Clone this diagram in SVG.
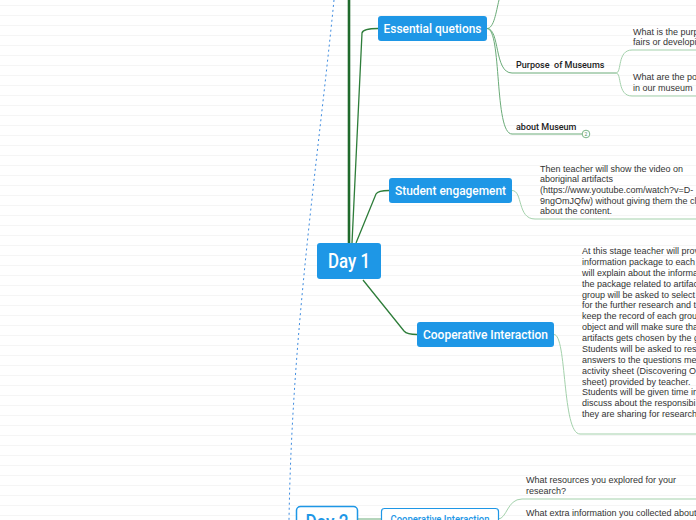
<svg xmlns="http://www.w3.org/2000/svg" width="696" height="520" viewBox="0 0 696 520">
<defs>
<pattern id="ruled" width="696" height="10" patternUnits="userSpaceOnUse">
<line x1="0" y1="5.5" x2="696" y2="5.5" stroke="#f5f5f5" stroke-width="1"/>
</pattern>
<style>
.node rect.fill{fill:#1e97e6;}
.node text.lbl{fill:#ffffff;font-family:Roboto,"Liberation Sans",sans-serif;font-weight:500;text-anchor:middle;}
.onode rect{fill:#ffffff;stroke:#1e97e6;}
.onode text{fill:#1e97e6;font-family:Roboto,"Liberation Sans",sans-serif;font-weight:500;text-anchor:middle;}
.leaf{font-family:"Liberation Sans",Arial,sans-serif;font-size:9px;fill:#333333;}
.sub{font-family:Roboto,"Liberation Sans",sans-serif;font-weight:500;font-size:9px;fill:#222222;}
.trunk{fill:none;stroke:#1f6a2c;stroke-width:2.6;}
.l1{fill:none;stroke:#2e7d3a;stroke-width:1.3;}
.l2{fill:none;stroke:#6aab78;stroke-width:1;}
.l3{fill:none;stroke:#a3d1ab;stroke-width:1;}
.rel{fill:none;stroke:#3d8be0;stroke-width:1;stroke-dasharray:2 3;}
</style>
</defs>
<rect width="696" height="520" fill="#ffffff"/>
<rect width="696" height="520" fill="url(#ruled)"/>

<g id="connectors">
<path class="rel" d="M334,0 C318,160 292,330 289,520"/>
<path class="trunk" d="M349,243 L349,0"/>
<path class="l1" d="M352,243 L362,33 Q363,28.5 378,28.5"/>
<path class="l1" d="M356,243 L376,194 Q378,190.5 389,190.5"/>
<path class="l1" d="M363,280 L404,331 Q407,334.5 417,334.5"/>
<path class="l2" d="M487,28.5 C494,28.5 496,12 499,0"/>
<path class="l2" d="M487,28.5 C500,28.5 494,73 512,73 L616,73"/>
<path class="l2" d="M487,28.5 C502,28.5 494,134 512,134 L582,134"/>
<path class="l3" d="M616,73 C622,73 617,50 632,50 L696,50"/>
<path class="l3" d="M616,73 C622,73 617,96 632,96 L696,96"/>
<path class="l3" d="M512,190.5 C523,190.5 517,219 535,219 L696,219"/>
<path class="l3" d="M554,334.5 C567,334.5 562,434 580,434 L696,434"/>
<path class="l2" d="M357,519 L381,519"/>
<path class="l3" d="M498,519 C507,519 507,499 522,499 L696,499"/>
</g>

<g id="day1" class="node">
<rect class="fill" x="317" y="243" width="64" height="36" rx="3"/>
<text class="lbl" x="349" y="267.5" font-size="20" textLength="42" lengthAdjust="spacingAndGlyphs">Day 1</text>
</g>

<g id="essential" class="node">
<rect class="fill" x="378" y="16" width="109" height="25" rx="3"/>
<text class="lbl" x="432.5" y="32.5" font-size="13" textLength="98" lengthAdjust="spacingAndGlyphs">Essential quetions</text>
</g>

<g id="purpose">
<text class="sub" x="516" y="68">Purpose&#160; of Museums</text>
</g>
<g id="purpose-q1">
<text class="leaf" x="633" y="34.5">What is the purp</text>
<text class="leaf" x="633" y="44.5">fairs or developi</text>
</g>
<g id="purpose-q2">
<text class="leaf" x="633" y="80">What are the po</text>
<text class="leaf" x="633" y="90.5">in our museum</text>
</g>

<g id="about">
<text class="sub" x="516" y="129.5">about Museum</text>
<circle cx="586" cy="134" r="3.8" fill="#ffffff" stroke="#6aab78" stroke-width="0.9"/>
<text x="586" y="135.8" font-family="Roboto,'Liberation Sans',sans-serif" font-size="5" fill="#4a8a5a" text-anchor="middle">2</text>
</g>

<g id="student" class="node">
<rect class="fill" x="389" y="178" width="123" height="25" rx="3"/>
<text class="lbl" x="450.5" y="195" font-size="13" textLength="111" lengthAdjust="spacingAndGlyphs">Student engagement</text>
</g>
<g id="student-text">
<text class="leaf" x="540" y="171.5">Then teacher will show the video on</text>
<text class="leaf" x="540" y="182.2">aboriginal artifacts</text>
<text class="leaf" x="540" y="192.9">(https://www.youtube.com/watch?v=D-</text>
<text class="leaf" x="540" y="203.6">9ngOmJQfw) without giving them the cl</text>
<text class="leaf" x="540" y="214.3">about the content.</text>
</g>

<g id="coop1" class="node">
<rect class="fill" x="417" y="322" width="137" height="25" rx="3"/>
<text class="lbl" x="485.5" y="338.8" font-size="13" textLength="125" lengthAdjust="spacingAndGlyphs">Cooperative Interaction</text>
</g>
<g id="coop1-text" class="leaf">
<text x="582" y="254">At this stage teacher will prov</text>
<text x="582" y="264.9">information package to each</text>
<text x="582" y="275.8">will explain about the informa</text>
<text x="582" y="286.6">the package related to artifac</text>
<text x="582" y="297.5">group will be asked to select</text>
<text x="582" y="308.4">for the further research and t</text>
<text x="582" y="319.3">keep the record of each grou</text>
<text x="582" y="330.1">object and will make sure tha</text>
<text x="582" y="341">artifacts gets chosen by the g</text>
<text x="582" y="351.9">Students will be asked to res</text>
<text x="582" y="362.8">answers to the questions me</text>
<text x="582" y="373.6">activity sheet (Discovering O</text>
<text x="582" y="384.5">sheet) provided by teacher.</text>
<text x="582" y="395.4">Students will be given time in</text>
<text x="582" y="406.3">discuss about the responsibi</text>
<text x="582" y="417.1">they are sharing for research</text>
</g>

<g id="day2" class="onode">
<rect x="296.5" y="506.5" width="61" height="30" rx="4" stroke-width="1.5"/>
<text x="327" y="528.5" font-size="20" textLength="43" lengthAdjust="spacingAndGlyphs">Day 2</text>
</g>
<g id="coop2" class="onode">
<rect x="381.5" y="508.5" width="117" height="24" rx="3" stroke-width="1.2"/>
<text x="440" y="522.5" font-size="10.5" textLength="99" lengthAdjust="spacingAndGlyphs">Cooperative Interaction</text>
</g>
<g id="coop2-text" class="leaf">
<text x="526" y="483">What resources you explored for your</text>
<text x="526" y="493.5">research?</text>
<text x="526" y="516">What extra information you collected about</text>
</g>
</svg>
